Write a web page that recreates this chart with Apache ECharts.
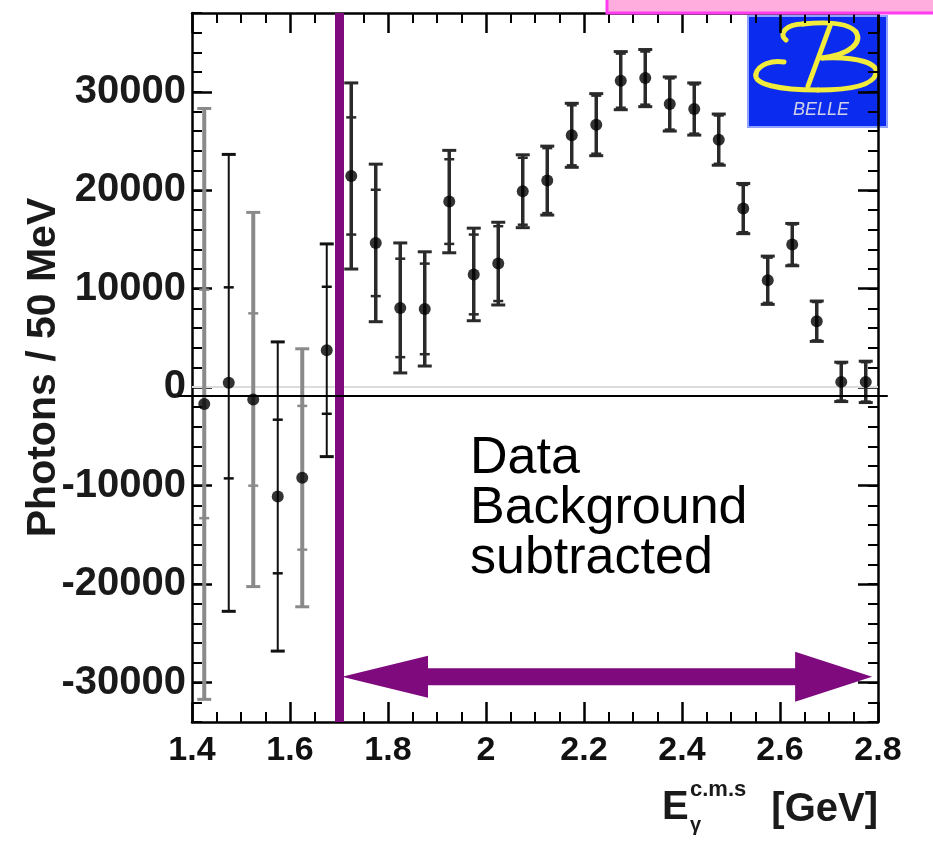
<!DOCTYPE html>
<html>
<head>
<meta charset="utf-8">
<title>Photon energy spectrum</title>
<script src="https://cdn.jsdelivr.net/npm/echarts@6/dist/echarts.min.js"></script>
<style>
  html, body { margin: 0; padding: 0; background: #ffffff; }
  #chart { width: 933px; height: 842px; }
</style>
</head>
<body>
<div id="chart"></div>
<script>
// Bin centres of the 50 MeV photon-energy bins [GeV]
const binCenters = [1.425, 1.475, 1.525, 1.575, 1.625, 1.675, 1.725, 1.775, 1.825, 1.875,
                    1.925, 1.975, 2.025, 2.075, 2.125, 2.175, 2.225, 2.275, 2.325, 2.375,
                    2.425, 2.475, 2.525, 2.575, 2.625, 2.675, 2.725, 2.775];
// Background-subtracted photon yield per bin
const photons = [-1700, 440, -1250, -11100, -9200, 3750, 21450, 14650, 8050, 7950,
                 18850, 11450, 12550, 19900, 20980, 25580, 26660, 31130, 31390, 28760,
                 28250, 25140, 18140, 10860, 14480, 6700, 540, 540];
// Statistical (inner) and total (outer) uncertainties
const statErr = [11600, 9700, 8750, 7800, 7300, 6450, 5950, 5400, 5000, 4600,
                 4300, 4050, 3800, 3400, 3300, 3050, 2950, 2750, 2700, 2600,
                 2500, 2450, 2400, 2300, 2050, 1950, 1900, 2000];
const totalErr = [30000, 23200, 19000, 15700, 13100, 10800, 9450, 8000, 6600, 5800,
                  5200, 4700, 4200, 3700, 3500, 3250, 3150, 2950, 2900, 2750,
                  2650, 2600, 2550, 2450, 2150, 2050, 2000, 2100];
// Labelled y ticks
const yTickLabels = [-30000, -20000, -10000, 0, 10000, 20000, 30000];
// Signal window: lower cut and upper end of the arrow [GeV], arrow height
const signalCut = 1.7;
const signalEnd = 2.788;
const arrowLevel = -29400;
const overlayLevel = -900;

const SANS = "'Liberation Sans', Arial, Helvetica, sans-serif";
const NARROW = "'Liberation Sans Narrow', 'Liberation Sans', Arial, sans-serif";
const PURPLE = '#7e0a7e';
const LOGO_YELLOW = '#f1ec3c';

const chart = echarts.init(document.getElementById('chart'), null, { renderer: 'canvas' });

const frameLine = { show: true, onZero: false, lineStyle: { color: '#000', width: 2.5 } };

function xAxisDef(pos, withLabels) {
  return {
    type: 'value', position: pos, min: 1.4, max: 2.8, interval: 0.2,
    axisLine: frameLine,
    axisTick: { show: true, inside: true, length: 20, lineStyle: { color: '#000', width: 2.5 } },
    minorTick: { show: true, splitNumber: 4, length: 10, lineStyle: { color: '#000', width: 2 } },
    splitLine: { show: false }, minorSplitLine: { show: false },
    axisLabel: withLabels ? {
      show: true, margin: 12, color: '#111', fontFamily: NARROW, fontWeight: 'bold', fontSize: 34,
      formatter: v => String(Math.round(v * 10) / 10)
    } : { show: false }
  };
}

function yMinorAxis(pos, withLabels) {
  const axis = {
    type: 'value', position: pos, min: -34000, max: 38000, interval: 2000,
    axisLine: frameLine,
    axisTick: { show: true, inside: true, length: 10, lineStyle: { color: '#000', width: 2 } },
    splitLine: { show: false },
    axisLabel: { show: false }
  };
  if (withLabels) {
    axis.axisLabel = {
      show: true, interval: 0, margin: 6, color: '#1a1a1a', fontFamily: SANS, fontWeight: 'bold', fontSize: 40,
      formatter: v => (yTickLabels.indexOf(v) >= 0 ? String(v) : '')
    };
    axis.name = 'Photons / 50 MeV';
    axis.nameLocation = 'middle';
    axis.nameGap = 128;
    axis.nameMoveOverlap = false;
    axis.nameTextStyle = { fontFamily: SANS, fontWeight: 'bold', fontSize: 41, color: '#1a1a1a' };
  }
  return axis;
}

function yMajorAxis(pos) {
  return {
    type: 'value', position: pos, min: -34000, max: 38000,
    axisLine: { show: false },
    axisTick: { show: true, inside: true, length: 20, customValues: yTickLabels,
                lineStyle: { color: '#000', width: 2.5 } },
    splitLine: { show: false },
    axisLabel: { show: false }
  };
}

const pointData = binCenters.map((x, i) => [x, photons[i]]);
const errData = binCenters.map((x, i) => [x, photons[i], statErr[i], totalErr[i]]);

function renderErrorBar(params, api) {
  const x = api.value(0), v = api.value(1), s = api.value(2), t = api.value(3);
  const left = x < signalCut;
  const grey = left && params.dataIndex % 2 === 0;
  const color = left ? (grey ? '#8a8a8a' : '#111111') : '#2a2a2a';
  const w = left ? (grey ? 4 : 2) : 3.5;
  const c = api.coord([x, v]);
  const yTo = api.coord([x, v + t])[1], yBo = api.coord([x, v - t])[1];
  const yTi = api.coord([x, v + s])[1], yBi = api.coord([x, v - s])[1];
  const cap = 7, tick = 5;
  const line = (x1, y1, x2, y2, lw) => ({
    type: 'line', shape: { x1, y1, x2, y2 }, style: { stroke: color, lineWidth: lw }
  });
  return {
    type: 'group',
    children: [
      line(c[0], yTo, c[0], yBo, w),
      line(c[0] - cap, yTo, c[0] + cap, yTo, 3),
      line(c[0] - cap, yBo, c[0] + cap, yBo, 3),
      line(c[0] - tick, yTi, c[0] + tick, yTi, 2.5),
      line(c[0] - tick, yBi, c[0] + tick, yBi, 2.5)
    ]
  };
}

chart.setOption({
  animation: false,
  backgroundColor: '#ffffff',
  grid: { left: 192, top: 13, right: 55, bottom: 120 },
  xAxis: [xAxisDef('bottom', true), xAxisDef('top', false)],
  yAxis: [yMinorAxis('left', true), yMajorAxis('left'), yMinorAxis('right', false), yMajorAxis('right')],
  series: [
    {
      type: 'custom', name: 'errors', xAxisIndex: 0, yAxisIndex: 0,
      data: errData, encode: { x: 0, y: 1 },
      renderItem: renderErrorBar, z: 3, silent: true
    },
    {
      type: 'scatter', name: 'photons', xAxisIndex: 0, yAxisIndex: 0,
      data: pointData, symbol: 'circle', symbolSize: 12,
      itemStyle: { color: '#000' }, z: 4, silent: true,
      markLine: {
        silent: true, symbol: ['none', 'none'], label: { show: false }, z: 2,
        data: [
          { yAxis: 0, lineStyle: { color: '#dcdcdc', width: 2, type: 'solid' } },
          { xAxis: signalCut, lineStyle: { color: PURPLE, width: 9, type: 'solid' } }
        ]
      }
    }
  ]
});

// Overlay annotations placed through the axis scales
const px = (x, y) => chart.convertToPixel({ xAxisIndex: 0, yAxisIndex: 0 }, [x, y]);
const a1 = px(signalCut, arrowLevel), a2 = px(signalEnd, arrowLevel);
const ay = a1[1];
const lx = a1[0] + 3, rx = a2[0];
const arrowPts = [
  [lx, ay], [lx + 86, ay - 21], [lx + 86, ay - 8.5], [rx - 77, ay - 8.5], [rx - 77, ay - 25],
  [rx, ay], [rx - 77, ay + 25], [rx - 77, ay + 8.5], [lx + 86, ay + 8.5], [lx + 86, ay + 21]
];
const o1 = px(1.372, overlayLevel), o2 = px(2.82, overlayLevel);

// Script "B" of the logo as cubic segments: [start, control 1, control 2, end]
const logoCurves = [
  [38, 24, 30, 18, 38, 8, 55, 8],
  [55, 8, 75, 6, 100, 6, 108, 16],
  [108, 16, 114, 26, 104, 38, 74, 42],
  [74, 42, 110, 40, 132, 48, 128, 58],
  [128, 58, 124, 70, 100, 74, 70, 74],
  [70, 74, 30, 74, 5, 68, 8, 58],
  [8, 58, 10, 48, 25, 44, 36, 46]
];
const logoStroke = { stroke: LOGO_YELLOW, lineWidth: 5, lineCap: 'round', fill: null };
const logoChildren = [
  { type: 'rect', shape: { x: 0, y: 0, width: 139, height: 111 },
    style: { fill: '#0b2cee', stroke: '#8fa2ff', lineWidth: 2 } }
].concat(logoCurves.map(c => ({
  type: 'bezierCurve',
  shape: { x1: c[0], y1: c[1], cpx1: c[2], cpy1: c[3], cpx2: c[4], cpy2: c[5], x2: c[6], y2: c[7] },
  style: logoStroke
}))).concat([
  { type: 'line', shape: { x1: 82, y1: 10, x2: 60, y2: 70 }, style: logoStroke },
  { type: 'text', x: 73, y: 94,
    style: { text: 'BELLE', fill: '#cfd0e6', font: 'italic 18px ' + SANS,
             align: 'center', verticalAlign: 'middle' } }
]);

chart.setOption({
  graphic: [
    { type: 'line', z: 50, silent: true,
      shape: { x1: o1[0], y1: o1[1], x2: o2[0], y2: o2[1] },
      style: { stroke: '#000', lineWidth: 2 } },
    { type: 'polygon', z: 60, silent: true,
      shape: { points: arrowPts }, style: { fill: PURPLE } },
    { type: 'text', z: 60, silent: true, x: 470, y: 434,
      style: { text: 'Data\nBackground\nsubtracted', fill: '#000',
               font: '52px ' + SANS, lineHeight: 50, verticalAlign: 'top' } },
    // axis title E_gamma^{c.m.s} [GeV]
    { type: 'text', z: 60, silent: true, x: 662, y: 788,
      style: { text: 'E', fill: '#1a1a1a', font: 'bold 40px ' + SANS, verticalAlign: 'top' } },
    { type: 'text', z: 60, silent: true, x: 690, y: 779,
      style: { text: 'c.m.s', fill: '#1a1a1a', font: 'bold 22px ' + SANS, verticalAlign: 'top' } },
    { type: 'text', z: 60, silent: true, x: 690, y: 815,
      style: { text: 'γ', fill: '#1a1a1a', font: 'bold 20px ' + SANS, verticalAlign: 'top' } },
    { type: 'text', z: 60, silent: true, x: 878, y: 790,
      style: { text: '[GeV]', fill: '#1a1a1a', font: 'bold 40px ' + SANS, align: 'right', verticalAlign: 'top' } },
    // pink banner at the top edge
    { type: 'rect', z: 70, silent: true,
      shape: { x: 607, y: -6, width: 332, height: 19 },
      style: { fill: '#ffacde', stroke: '#ff3cee', lineWidth: 3 } },
    // experiment logo
    { type: 'group', z: 80, silent: true, x: 748, y: 16, children: logoChildren }
  ]
});
</script>
</body>
</html>
